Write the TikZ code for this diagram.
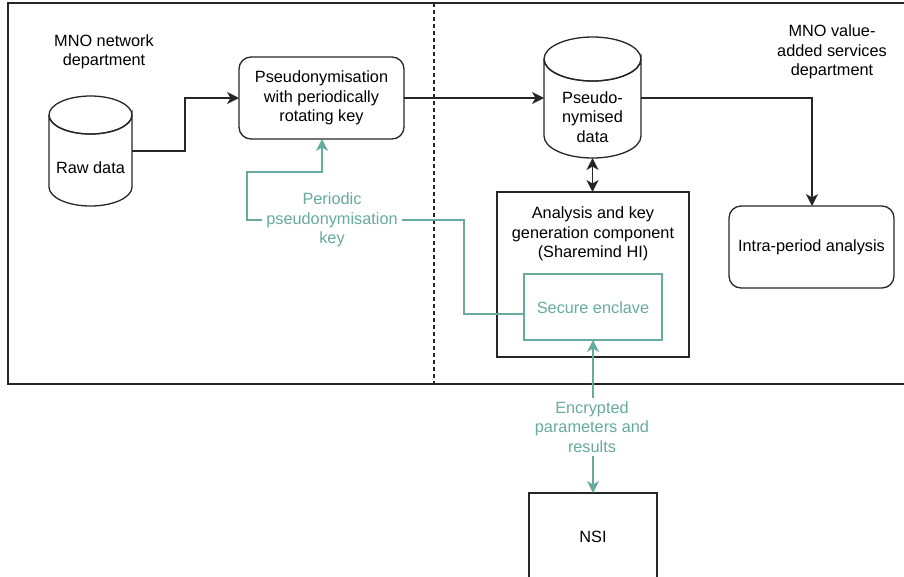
\documentclass[tikz,border=0pt]{standalone}
\usepackage{fontspec}
\setmainfont{Liberation Sans}
\usetikzlibrary{arrows.meta,shapes.geometric}
\definecolor{teal1}{HTML}{67AB9F}
\begin{document}
\begin{tikzpicture}[x=1pt,y=-1pt,
  every node/.style={font=\fontsize{16.3}{19.3}\selectfont, align=center},
  ln/.style={line width=1.3pt, draw=black!85},
  tip/.tip={Stealth[length=12pt,width=12pt,inset=3.5pt]},
  arr/.style={ln, -tip},
  darr/.style={ln, tip-tip},
  tl/.style={line width=1.3pt, draw=teal1},
  tarr/.style={tl, -tip},
  tdarr/.style={tl, tip-tip},
  rbox/.style={ln, rounded corners=12pt},
  sbox/.style={ln},
]
\useasboundingbox (0,0) rectangle (904,576);
% frame
\draw[ln] (920,3) -- (8,3) -- (8,384) -- (920,384);
\draw[ln, line width=1.2pt, dash pattern=on 4pt off 3pt] (434,3) -- (434,384);

% raw data cylinder
\draw[ln, fill=white] (49,115) -- (49,187) arc[start angle=180, end angle=0, x radius=41.5, y radius=19] -- (132,115) arc[start angle=0, end angle=360, x radius=41.5, y radius=19];
\draw[ln] (49,115) arc[start angle=180, end angle=0, x radius=41.5, y radius=19];
\node (raw) at (90.5,168) {Raw data};
\coordinate (rawR) at (132,151);

% pseudo data cylinder
\draw[ln, fill=white] (544,59) -- (544,136) arc[start angle=180, end angle=0, x radius=48.5, y radius=22] -- (641,59) arc[start angle=0, end angle=360, x radius=48.5, y radius=22];
\draw[ln] (544,59) arc[start angle=180, end angle=0, x radius=48.5, y radius=22];
\node (pd) at (592.5,117) {Pseudo-\\nymised\\data};
\coordinate (pdL) at (544,98);
\coordinate (pdR) at (641,98);
\coordinate (pdB) at (592.5,158);

\node (mnon) at (104,52) {MNO network\\department};
\node (mnov) at (832,52) {MNO value-\\added services\\department};

\draw[rbox] (239,57) rectangle (404,139);
\node (ps) at (321.5,98) {Pseudonymisation\\with periodically\\rotating key};
\coordinate (psL) at (239,98);
\coordinate (psR) at (404,98);
\coordinate (psB) at (322,139);

\draw[sbox] (497,192) rectangle (689,357);
\node (an) at (593,234) {Analysis and key\\generation component\\(Sharemind HI)};
\coordinate (anT) at (592.5,192);

\draw[tl] (524,274) rectangle (662,340);
\node[text=teal1] (se) at (593,308) {Secure enclave};
\coordinate (seL) at (524,314);
\coordinate (seB) at (593,340);

\draw[rbox] (729,206) rectangle (894,288);
\node (ia) at (811.5,247) {Intra-period analysis};
\coordinate (iaT) at (812,206);

\draw[sbox] (529,493) rectangle (657,580);
\node (nsi) at (593,537) {NSI};
\coordinate (nsiT) at (593,493);

% connectors
\draw[arr] (rawR) -- (185,151) -- (185,98) -- (psL);
\draw[arr] (psR) -- (pdL);
\draw[arr] (pdR) -- (812,98) -- (iaT);
\draw[darr] (pdB) -- (anT);

\draw[tarr] (seL) -- (464,314) -- (464,220) -- (247,220) -- (247,172) -- (322,172) -- (psB);
\node[text=teal1, fill=white, inner sep=4pt] (key) at (332,220) {Periodic\\pseudonymisation\\key};

\draw[tdarr] (seB) -- (nsiT);
\node[text=teal1, fill=white, inner sep=4pt] (enc) at (592,427) {Encrypted\\parameters and\\results};
\end{tikzpicture}
\end{document}
